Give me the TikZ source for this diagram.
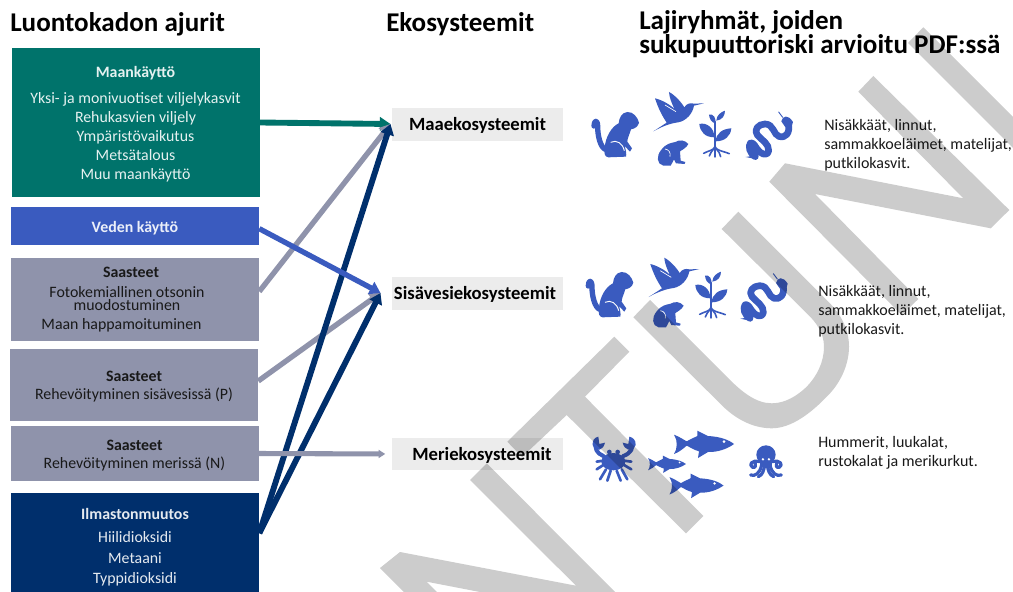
\documentclass[tikz,border=0pt]{standalone}
\usepackage{fontspec}
\setmainfont{Carlito}
\usetikzlibrary{arrows.meta}
\definecolor{landgreen}{HTML}{00736B}
\definecolor{waterblue}{HTML}{3A5BBF}
\definecolor{pollgray}{HTML}{8F93AB}
\definecolor{climnavy}{HTML}{002F6C}
\definecolor{ecogray}{HTML}{ECECEC}
\definecolor{markgray}{HTML}{CCCCCC}
\tikzset{
  drvbox/.style={rectangle,inner sep=0pt,minimum width=186pt},
  drvtext/.style={inner sep=0pt,align=center,font=\fontsize{11.9}{14.25}\selectfont},
  ecobox/.style={rectangle,inner sep=0pt,fill=ecogray,minimum width=128pt,minimum height=24.5pt},
  ecotext/.style={inner sep=0pt,font=\bfseries\fontsize{14}{15}\selectfont},
  spectext/.style={anchor=west,inner sep=0pt,align=left,text=black!90,font=\fontsize{12}{14.25}\selectfont},
  heading/.style={anchor=west,inner sep=0pt,align=left,font=\bfseries\fontsize{20.3}{19}\selectfont},
  flow/.style={-{Triangle[length=8pt,width=10pt]},line width=4.4pt},
  icon/.style={fill=waterblue,draw=none},
  iconline/.style={draw=waterblue,line cap=round,line join=round},
  markstroke/.style={fill=markgray,draw=none,blend mode=multiply},
  monkey/.pic={
    \fill[icon] (172,96) .. controls (190,95) and (203,112) .. (207,128) .. controls (204,140) and (195,146) .. (183,148)
      .. controls (178,165) and (172,175) .. (172,185) -- (186,205) -- (180,215) -- (164,198) .. controls (168,212) and (170,222) .. (168,230)
      -- (115,232) .. controls (104,230) and (102,222) .. (104,205) .. controls (106,170) and (125,140) .. (146,130) .. controls (148,112) and (155,98) .. (172,96) -- cycle;
    \draw[iconline,line width=4pt] (106,208) .. controls (92,202) and (83,170) .. (83,140) .. controls (83,118) and (72,120) .. (72,138);
    \draw[white,line width=.7pt] (122,187) .. controls (140,178) and (158,190) .. (163,212);
  },
  bird/.pic={
    \fill[icon] (250,154) -- (290,128) .. controls (275,105) and (265,85) .. (255,55) .. controls (270,58) and (300,72) .. (314,88)
      .. controls (305,70) and (298,52) .. (297,36) .. controls (315,45) and (335,68) .. (343,82) .. controls (350,70) and (362,68) .. (372,71)
      -- (402,70) -- (372,77) .. controls (368,100) and (350,122) .. (325,127) .. controls (300,130) and (275,140) .. (250,154) -- cycle;
    \draw[white,line width=.5pt] (285,75) -- (318,95);
  },
  frog/.pic={
    \fill[icon] (268,250) .. controls (258,235) and (265,215) .. (285,198) .. controls (298,188) and (310,188) .. (316,186)
      .. controls (328,178) and (345,180) .. (355,192) .. controls (350,202) and (340,208) .. (330,214) -- (332,242) -- (346,246) -- (344,252) -- (318,250) -- (312,238)
      .. controls (310,245) and (305,250) .. (302,257) -- (280,257) -- cycle;
    \draw[white,line width=.5pt] (285,207) .. controls (296,208) and (303,218) .. (300,230);
  },
  plant/.pic={
    \draw[iconline,line width=1.8pt] (435,125) -- (435,230);
    \draw[iconline,line width=1.2pt] (435,200) .. controls (430,212) and (415,212) .. (401,220);
    \draw[iconline,line width=1.2pt] (435,200) .. controls (440,212) and (455,212) .. (478,221);
    \draw[iconline,line width=1.2pt] (430,208) .. controls (425,215) and (420,220) .. (418,228);
    \draw[iconline,line width=1.2pt] (440,208) .. controls (446,215) and (450,220) .. (452,230);
    \fill[icon] (433,172) .. controls (405,172) and (390,155) .. (388,132) .. controls (410,126) and (434,145) .. (433,172) -- cycle;
    \fill[icon] (437,184) .. controls (438,160) and (458,146) .. (484,145) .. controls (482,168) and (465,184) .. (437,184) -- cycle;
    \fill[icon] (435,130) .. controls (425,127) and (418,117) .. (417,104) .. controls (430,100) and (440,115) .. (435,130) -- cycle;
    \fill[icon] (439,122) .. controls (440,105) and (452,97) .. (465,92) .. controls (465,108) and (456,120) .. (439,122) -- cycle;
  },
  snake/.pic={
    \draw[iconline,line width=5pt] (655,130) .. controls (662,160) and (645,175) .. (628,170) .. controls (610,165) and (612,132) .. (585,132)
      .. controls (565,132) and (550,150) .. (562,165) .. controls (575,180) and (598,192) .. (596,212) .. controls (592,232) and (570,222) .. (560,205)
      .. controls (552,190) and (540,180) .. (538,198) .. controls (536,215) and (552,228) .. (556,230);
    \fill[icon] (556,237) -- (527,231) .. controls (540,230) and (548,226) .. (556,222) -- cycle;
    \fill[icon] (634,124) .. controls (638,106) and (655,103) .. (669,126) .. controls (669,140) and (652,150) .. (645,140) -- cycle;
    \draw[iconline,line width=.7pt] (638,112) -- (626,96);
  },
  crab/.pic={
    \fill[icon] (130,125) ellipse [x radius=36,y radius=26];
    \fill[icon] (118,96) circle (7);
    \fill[icon] (143,96) circle (7);
    \draw[iconline,line width=3pt] (100,108) .. controls (80,100) and (72,85) .. (78,62);
    \draw[iconline,line width=3pt] (160,108) .. controls (182,100) and (192,85) .. (186,62);
    \fill[icon] (68,75) .. controls (66,60) and (75,52) .. (85,50) -- (88,72) -- (105,68) .. controls (100,90) and (80,100) .. (68,75) -- cycle;
    \fill[icon] (197,75) .. controls (198,60) and (188,52) .. (178,50) -- (175,72) -- (158,68) .. controls (163,90) and (185,100) .. (197,75) -- cycle;
    \draw[iconline,line width=2pt] (100,122) -- (80,125);
    \draw[iconline,line width=2pt] (100,135) -- (80,148);
    \draw[iconline,line width=2pt] (108,148) -- (90,178);
    \draw[iconline,line width=2pt] (122,152) -- (112,182);
    \draw[iconline,line width=2pt] (140,152) -- (152,182);
    \draw[iconline,line width=2pt] (155,148) -- (172,178);
    \draw[iconline,line width=2pt] (162,135) -- (184,148);
    \draw[iconline,line width=2pt] (162,122) -- (184,125);
  },
  fish/.pic={
    \fill[icon] (-90,-28) .. controls (-70,-20) and (-60,-12) .. (-52,-8) .. controls (-35,-18) and (-15,-25) .. (-20,-25) -- (-20,-40) -- (12,-24)
      .. controls (50,-22) and (75,-12) .. (90,0) .. controls (70,15) and (40,25) .. (12,24) -- (-18,42) -- (-15,22)
      .. controls (-30,18) and (-45,8) .. (-52,5) .. controls (-60,12) and (-75,25) .. (-90,30) .. controls (-80,15) and (-78,-10) .. (-90,-28) -- cycle;
    \fill[white] (60,-7) circle (4.5);
  },
  octopus/.pic={
    \draw[iconline,line width=2.4pt] (570,125) .. controls (545,118) and (535,135) .. (548,142) .. controls (555,145) and (560,135) .. (556,130);
    \draw[iconline,line width=2.4pt] (606,125) .. controls (632,118) and (640,135) .. (628,142) .. controls (620,145) and (615,135) .. (620,130);
    \draw[iconline,line width=2.4pt] (575,135) .. controls (570,160) and (555,170) .. (542,165);
    \draw[iconline,line width=2.4pt] (600,135) .. controls (605,160) and (620,170) .. (634,165);
    \draw[iconline,line width=2.4pt] (584,135) .. controls (582,150) and (578,165) .. (565,170);
    \draw[iconline,line width=2.4pt] (592,135) .. controls (594,150) and (598,165) .. (611,170);
    \fill[icon] (588,104) ellipse [x radius=29,y radius=28];
    \fill[icon] (570,115) rectangle (606,142);
    \fill[white] (579,118) circle (4);
    \fill[white] (597,118) circle (4);
  },
}
\begin{document}
\begin{tikzpicture}[x=0.75pt,y=-0.75pt]
  \useasboundingbox (0,0) rectangle (1013,592);
  \fill[white] (0,0) rectangle (1013,592);

  \node[heading] (hdrivers) at (10,24) {Luontokadon ajurit};
  \node[heading] (hecosys) at (386,24) {Ekosysteemit};
  \node[heading] (hspecies) at (639,34) {Lajiryhmät, joiden\\[-.5pt]sukupuuttoriski arvioitu PDF:ssä};

  \node[drvbox,fill=landgreen,minimum height=111.5pt] (land) at (135.5,122.5) {};
  \node[drvbox,fill=waterblue,minimum height=28.5pt] (water) at (135,226) {};
  \node[drvbox,fill=pollgray,minimum height=62pt] (pollair) at (135,299.5) {};
  \node[drvbox,fill=pollgray,minimum height=54pt] (pollwater) at (134,385) {};
  \node[drvbox,fill=pollgray,minimum height=41pt] (pollsea) at (134.5,453.5) {};
  \node[drvbox,fill=climnavy,minimum height=74pt] (climate) at (135,542.5) {};

  \node[drvtext,text=white!90!landgreen] (landt) at (135.5,124.5)
    {\textbf{Maankäyttö}\\[5.5pt]Yksi- ja monivuotiset viljelykasvit\\Rehukasvien viljely\\Ympäristövaikutus\\Metsätalous\\Muu maankäyttö};
  \node[drvtext,text=white!90!waterblue] (watert) at (135,228) {\textbf{Veden käyttö}};
  \node[drvtext,text=black!90] (pollairt) at (131,272) {\textbf{Saasteet}};
  \node[drvtext,text=black!90,font=\fontsize{11.9}{9.75}\selectfont] (pollairf) at (127,299) {Fotokemiallinen otsonin\\muodostuminen};
  \node[drvtext,text=black!90] (pollaird) at (121.5,325) {Maan happamoituminen};
  \node[drvtext,text=black!90] (pollwatert) at (134,387) {\textbf{Saasteet}\\[-.75pt]Rehevöityminen sisävesissä (P)};
  \node[drvtext,text=black!90] (pollseat) at (134.5,455.5) {\textbf{Saasteet}\\[-.75pt]Rehevöityminen merissä (N)};
  \node[drvtext,text=white!90!climnavy] (climatet) at (135,547)
    {\textbf{Ilmastonmuutos}\\[3pt]Hiilidioksidi\\[1.5pt]Metaani\\[.75pt]Typpidioksidi};

  \node[ecobox] (landeco) at (477.5,124.5) {};
  \node[ecobox] (fresheco) at (477.5,293.5) {};
  \node[ecobox] (seaeco) at (477.5,454) {};
  \node[ecotext] (landecot) at (477.5,125) {Maaekosysteemit};
  \node[ecotext] (freshecot) at (475,294) {Sisävesiekosysteemit};
  \node[ecotext] (seaecot) at (482,455) {Meriekosysteemit};

  \node[spectext] (landspec) at (824,145) {Nisäkkäät, linnut,\\sammakkoeläimet, matelijat,\\putkilokasvit.};
  \node[spectext] (freshspec) at (818,311) {Nisäkkäät, linnut,\\sammakkoeläimet, matelijat,\\putkilokasvit.};
  \node[spectext] (seaspec) at (818,452.5) {Hummerit, luukalat,\\rustokalat ja merikurkut.};

  \coordinate (landtip) at (390.5,124);
  \coordinate (freshtip) at (380.5,293);
  \draw[flow,landgreen] (land.east) -- (landtip);
  \draw[flow,pollgray,line width=4pt] ([yshift=6pt]pollair.east) -- (landtip);
  \draw[flow,pollgray,line width=4pt] ([yshift=3pt]pollwater.east) -- (freshtip);
  \draw[flow,climnavy] ([yshift=7pt]climate.east) -- (landtip);
  \draw[flow,climnavy] ([yshift=7pt]climate.east) -- (freshtip);
  \draw[flow,waterblue,line width=4pt] ([yshift=-2pt]water.east) -- (freshtip);
  \draw[-{Triangle[length=5pt,width=6pt]},line width=3.8pt,pollgray,shorten >=5pt] (pollsea.east) -- (seaeco.west);

  \pic[scale=.3333] at (570,80) {monkey};
  \pic[scale=.3333] at (570,80) {bird};
  \pic[scale=.3333] at (570,80) {frog};
  \pic[scale=.3333] at (570,80) {plant};
  \pic[scale=.3333] at (570,80) {snake};
  \pic[scale=.3333] at (564.3,240) {monkey};
  \pic[scale=.3333] at (565.3,245.7) {bird};
  \pic[scale=.3333] at (565.3,241.7) {frog};
  \pic[scale=.3333] at (566,241) {plant};
  \pic[scale=.3333] at (564.7,241.7) {snake};
  \pic[scale=.3333] at (570,420) {crab};
  \pic[scale=.3333] at (570,420) {octopus};
  \pic[scale=.3333] at (704,444) {fish};
  \pic[scale=.21] at (667,464) {fish};
  \pic[scale=.3] at (696.5,485.5) {fish};

  \fill[markstroke] (380,568) -- (400,552) -- (576,585.7) -- (470,480) -- (486.7,463.3) -- (615,592) -- (480,592) -- (426.7,581.7) -- (437,592) -- (404,592) -- cycle;
  \fill[markstroke] (614.3,336.7) -- (629.3,351.7) -- (585,396.7) -- (703.3,516) -- (686,533.3) -- (566.7,415) -- (522,457) -- (507.3,441.7) -- cycle;
  \fill[markstroke] (738.3,211.7) -- (826.7,300) .. controls (842,315) and (849,330) .. (849,346.7) .. controls (849,365) and (840,384) .. (826.7,396.7)
    .. controls (812,412) and (792,428.3) .. (771.7,428.3) .. controls (752,428.3) and (735,418) .. (723.3,406.7) -- (633.3,317.3) -- (650,300) -- (728.3,378.3)
    .. controls (742,392) and (756,403.3) .. (771.7,403.3) .. controls (785,403.3) and (797,396) .. (806.7,386.7) .. controls (817,376) and (824,362) .. (824,346.7)
    .. controls (824,333) and (816,322) .. (806.7,313.3) -- (721.7,229) -- cycle;
  \fill[markstroke] (769.3,181.7) -- (785,163.3) -- (963.3,198.3) -- (858.3,91.7) -- (873.3,76) -- (1009.3,210) -- (990.7,228.3) -- (815,194) -- (918.3,299) -- (901.7,315) -- cycle;
  \fill[markstroke] (923.3,27.3) -- (1013,117) -- (1013,148) -- (908,43) -- cycle;
\end{tikzpicture}
\end{document}
